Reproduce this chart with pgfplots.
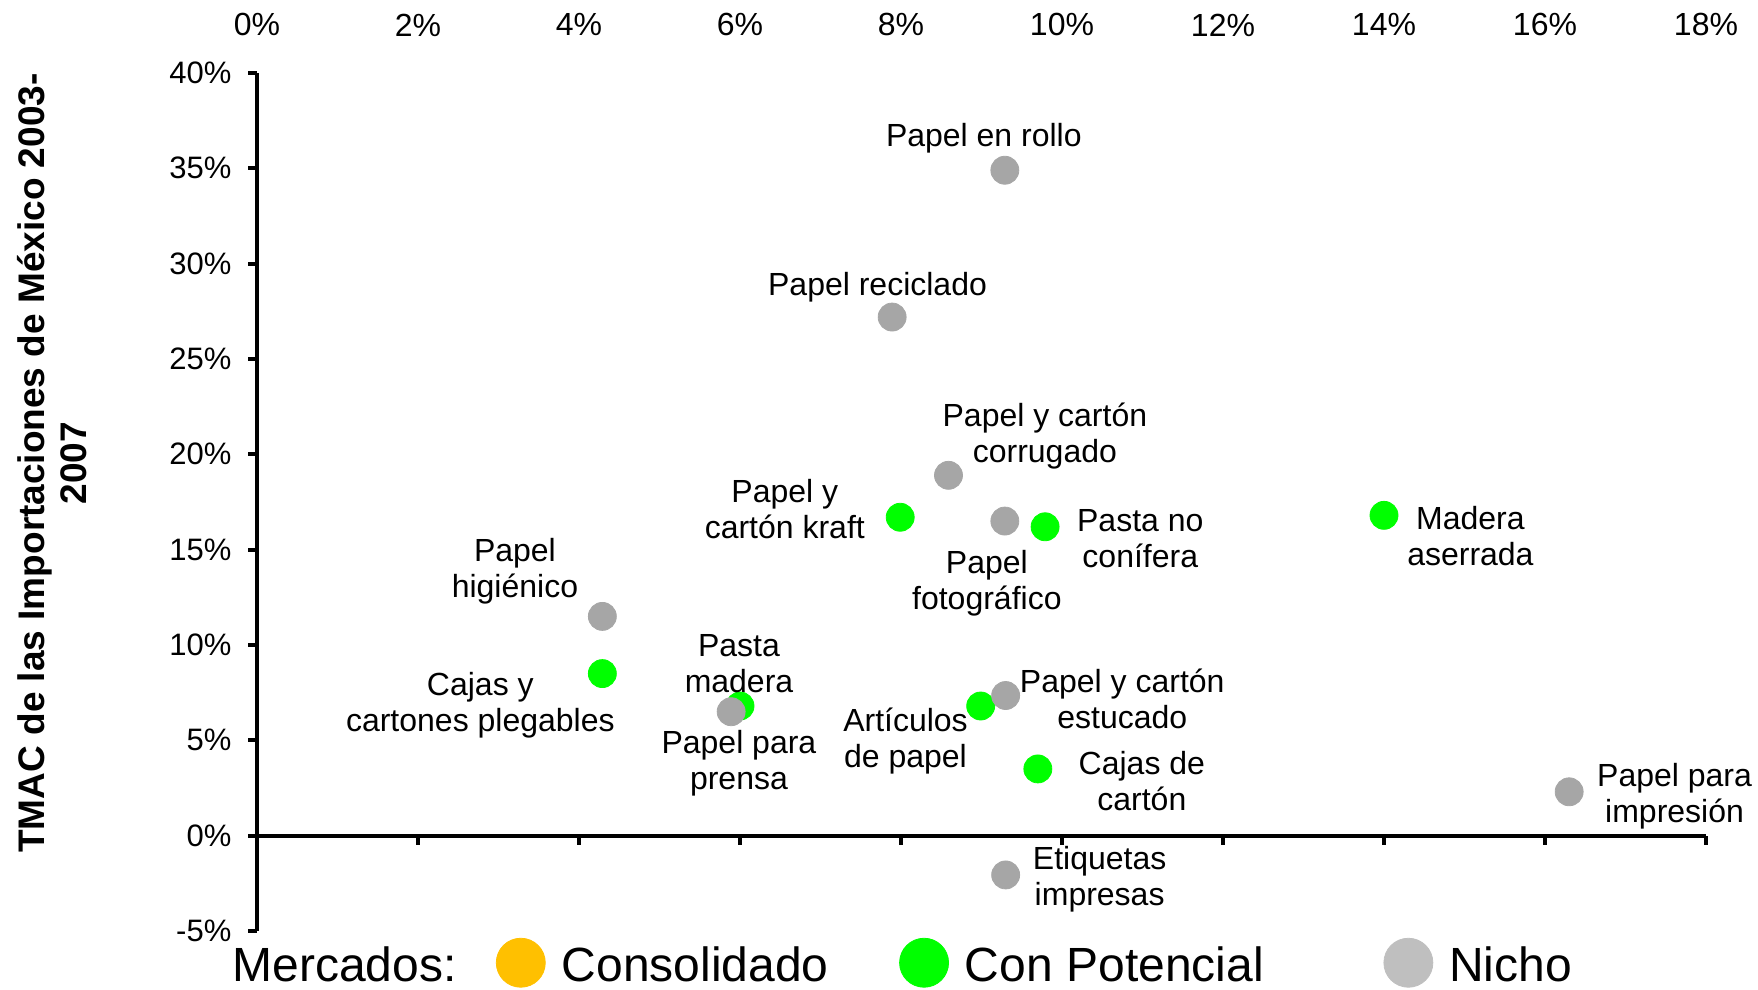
\documentclass[border=0pt]{standalone}
\usepackage{pgfplots}
\pgfplotsset{compat=1.18}
\usepackage{fontspec}
\setmainfont{Liberation Sans}
\definecolor{nicho}{HTML}{A6A6A6}
\definecolor{nicholeg}{HTML}{BFBFBF}
\definecolor{pot}{HTML}{00FF00}
\definecolor{consol}{HTML}{FFC000}
\protected\def\nl{\\}
\begin{document}
\begin{tikzpicture}
\pgfplotsset{
  base/.style={
    at={(128.5pt,29.5pt)}, anchor=south west,
    scale only axis, width=724.5pt, height=429pt,
    xmin=0, xmax=18, ymin=-5, ymax=40,
  },
  lbl/.style={
    nodes near coords={\pgfplotspointmeta},
    point meta=explicit symbolic,
    visualization depends on={\thisrow{dx} \as \dx},
    visualization depends on={\thisrow{dy} \as \dy},
    every node near coord/.append style={anchor=center, xshift=\dx pt, yshift=\dy pt, align=center, text=black, font=\fontsize{16}{18}\selectfont, inner sep=0pt},
  },
}
\begin{axis}[base,
  axis x line*=top, axis y line=none,
  x axis line style={draw=none},
  xtick={0,2,...,18},
  xticklabels={0\%,2\%,4\%,6\%,8\%,10\%,12\%,14\%,16\%,18\%},
  major tick length=0pt,
  xticklabel style={font=\fontsize{16}{18}\selectfont, anchor=center, yshift=24pt},
  ytick=\empty,
]
\end{axis}
\begin{axis}[base,
  axis x line=middle, axis y line=left,
  axis line style={-, line width=1.9pt},
  xtick={0,2,...,18}, xticklabels={,,,,,,,,,},
  ytick={-5,0,...,40},
  yticklabels={-5\%,0\%,5\%,10\%,15\%,20\%,25\%,30\%,35\%,40\%},
  yticklabel style={font=\fontsize{15.5}{18}\selectfont, xshift=-4.8pt},
  tick align=outside, major tick length=4.5pt,
  tick style={line width=1.9pt, black},
  clip=false,
  legend columns=-1,
  legend style={draw=none, fill=none, at={(-0.0283,-0.0370)}, anchor=west,
    font=\fontsize{24}{28}\selectfont, inner sep=0pt, nodes={inner sep=0pt},
    /tikz/every odd column/.style={column sep=8pt},
    /tikz/every even column/.style={column sep=0pt}},
]
\addlegendimage{empty legend}
\addlegendentry{\makebox[131.75pt][l]{Mercados:}}
\addlegendimage{legend image code/.code={\fill[consol] (12.25pt,1.5pt) circle (12.25pt);}}
\addlegendentry{\makebox[168.75pt][l]{Consolidado}}
\addlegendimage{legend image code/.code={\fill[pot] (12.25pt,1.5pt) circle (12.25pt);}}
\addlegendentry{\makebox[209.25pt][l]{Con Potencial}}
\addlegendimage{legend image code/.code={\fill[nicholeg] (12.25pt,1.5pt) circle (12.25pt);}}
\addlegendentry{Nicho}

\addplot[only marks, color=pot, mark=*, mark size=7pt, mark options={draw=pot, fill=pot}, lbl, forget plot]
table[meta=label, col sep=comma] {
x,y,dx,dy,label
7.99,16.7,-57.7,4,{Papel y\nl cartón kraft}
9.79,16.2,47.6,-6,{Pasta no\nl conífera}
14.0,16.8,43.2,-10.5,{Madera\nl aserrada}
4.29,8.5,-61,-15.6,{Cajas y\nl cartones plegables}
6.0,6.8,-0.5,21,{Pasta\nl madera}
8.99,6.8,-37.6,-17.3,{Artículos\nl de papel}
9.70,3.5,52,-6,{Cajas de\nl cartón}
};
\addplot[only marks, color=nicho, mark=*, mark size=7pt, mark options={draw=nicho, fill=nicho}, lbl, forget plot]
table[meta=label, col sep=comma] {
x,y,dx,dy,label
9.29,34.9,-10.5,16,{Papel en rollo}
7.89,27.2,-7.3,14.7,{Papel reciclado}
8.59,18.9,48.2,19.7,{Papel y cartón\nl corrugado}
9.29,16.5,-9,-31.3,{Papel\nl fotográfico}
4.29,11.5,-43.7,22.5,{Papel\nl higiénico}
5.89,6.5,3.9,-25.7,{Papel para\nl prensa}
9.30,7.35,58.3,-1.6,{Papel y cartón\nl estucado}
16.3,2.3,52.7,-2.1,{Papel para\nl impresión}
9.30,-2.06,47,-2.1,{Etiquetas\nl impresas}
};
\end{axis}
\node[rotate=90, align=center, font=\bfseries\fontsize{18.5}{21}\selectfont] at (26pt,263.5pt) {TMAC de las Importaciones de México 2003-\\2007};
\pgfresetboundingbox
\useasboundingbox (0,0) rectangle (879pt,495pt);
\end{tikzpicture}
\end{document}
